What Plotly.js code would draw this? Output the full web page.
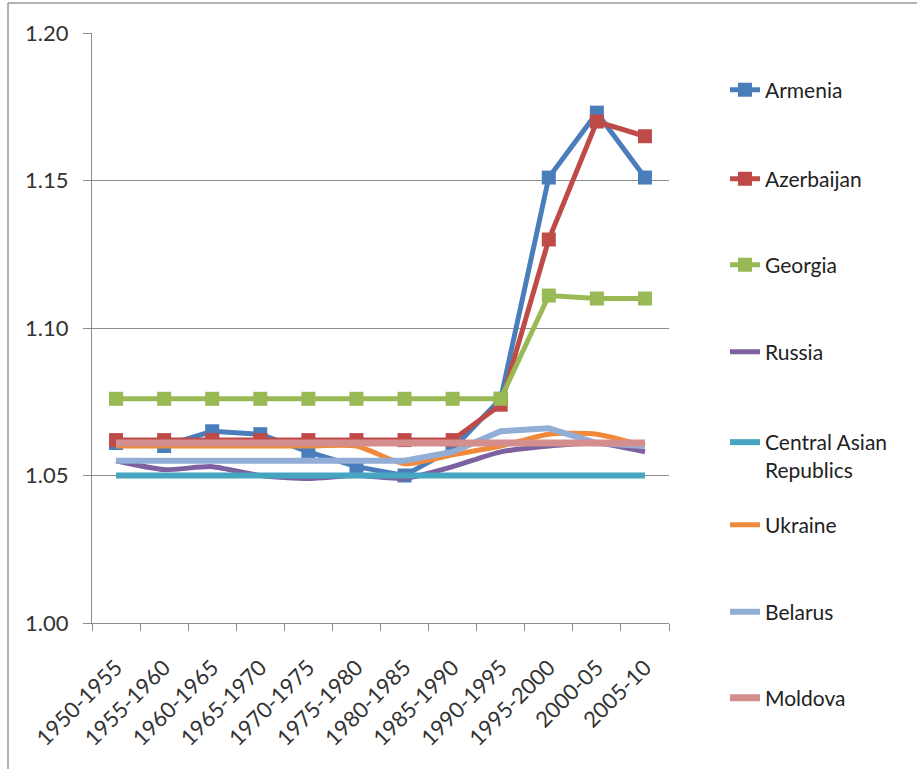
<!DOCTYPE html>
<html>
<head>
<meta charset="utf-8">
<script src="https://cdn.plot.ly/plotly-3.0.1.min.js"></script>
<style>html,body{margin:0;padding:0;background:#fff;}#chart{width:917px;height:769px;}</style>
</head>
<body>
<div id="chart"></div>
<script>
var categories = ['1950-1955','1955-1960','1960-1965','1965-1970','1970-1975','1975-1980','1980-1985','1985-1990','1990-1995','1995-2000','2000-05','2005-10'];
var armenia    = [1.061, 1.060, 1.065, 1.064, 1.058, 1.053, 1.050, 1.059, 1.076, 1.151, 1.173, 1.151];
var azerbaijan = [1.062, 1.062, 1.062, 1.062, 1.062, 1.062, 1.062, 1.062, 1.074, 1.130, 1.170, 1.165];
var georgia    = [1.076, 1.076, 1.076, 1.076, 1.076, 1.076, 1.076, 1.076, 1.076, 1.111, 1.110, 1.110];
var russia     = [1.055, 1.052, 1.053, 1.050, 1.049, 1.050, 1.049, 1.053, 1.058, 1.060, 1.061, 1.058];
var centralAsia= [1.050, 1.050, 1.050, 1.050, 1.050, 1.050, 1.050, 1.050, 1.050, 1.050, 1.050, 1.050];
var ukraine    = [1.060, 1.060, 1.060, 1.060, 1.060, 1.060, 1.054, 1.057, 1.060, 1.064, 1.064, 1.060];
var belarus    = [1.055, 1.055, 1.055, 1.055, 1.055, 1.055, 1.055, 1.058, 1.065, 1.066, 1.061, 1.060];
var moldova    = [1.061, 1.061, 1.061, 1.061, 1.061, 1.061, 1.061, 1.061, 1.061, 1.061, 1.061, 1.061];

var names = ['Armenia','Azerbaijan','Georgia','Russia','Central Asian<br>Republics','Ukraine','Belarus','Moldova'];
var series = [armenia, azerbaijan, georgia, russia, centralAsia, ukraine, belarus, moldova];
var colors = ['#4A7EBB','#BE4B48','#98B954','#7D60A0','#46A5C0','#F08A3A','#93AED6','#D48E8E'];
var widths = [5, 5, 5, 5, 6, 5, 6, 7];
var shapesLine = ['linear','linear','linear','spline','linear','spline','linear','linear'];
var withMarkers = [true, true, true, false, false, false, false, false];
var legendY = [90, 179, 265, 352, 456, 525, 612, 698];

var font = 'Lato, "Open Sans", "Liberation Sans", sans-serif';
var traces = [];
var layout = {
  width: 917, height: 769,
  margin: {l: 92, r: 248, t: 33, b: 146},
  paper_bgcolor: '#ffffff', plot_bgcolor: '#ffffff',
  font: {family: font, size: 22, color: '#333333'},
  xaxis: {
    type: 'category', range: [-0.5, categories.length - 0.5], tickangle: -45, ticks: 'outside', tickson: 'boundaries',
    ticklen: 7, tickcolor: '#8c8c8c', showline: true, linecolor: '#8c8c8c', linewidth: 1,
    showgrid: false, zeroline: false, tickfont: {family: font, size: 22, color: '#333333'},
    ticklabelstandoff: 22, fixedrange: true
  },
  yaxis: {
    range: [1.0, 1.2], dtick: 0.05, tick0: 1.0, tickformat: '.2f',
    ticks: 'outside', ticklen: 8, tickcolor: '#8c8c8c', showline: true, linecolor: '#8c8c8c', linewidth: 1,
    showgrid: true, gridcolor: '#8c8c8c', gridwidth: 1, zeroline: false,
    tickfont: {family: font, size: 22, color: '#333333'}, ticklabelstandoff: 10, fixedrange: true
  },
  shapes: [
    {type: 'line', xref: 'paper', yref: 'paper', x0: (8-92)/577, x1: (917-92)/577, y0: (623-3)/590, y1: (623-3)/590, line: {color: '#999999', width: 1.5}},
    {type: 'line', xref: 'paper', yref: 'paper', x0: (8-92)/577, x1: (8-92)/577, y0: (623-3)/590, y1: (623-769)/590, line: {color: '#999999', width: 1.5}}
  ],
  showlegend: true
};

for (var i = 0; i < series.length; i++) {
  var key = i === 0 ? 'legend' : 'legend' + (i + 1);
  var t = {
    type: 'scatter', x: categories, y: series[i], name: names[i],
    mode: withMarkers[i] ? 'lines+markers' : 'lines',
    line: {color: colors[i], width: widths[i], shape: shapesLine[i], smoothing: 0.6},
    legend: key, hoverinfo: 'skip'
  };
  if (withMarkers[i]) t.marker = {symbol: 'square', size: 14, color: colors[i]};
  traces.push(t);
  layout[key] = {
    x: (725 - 92) / 577, xanchor: 'left',
    y: (623 - legendY[i]) / 590, yanchor: 'middle',
    bgcolor: 'rgba(0,0,0,0)', borderwidth: 0,
    valign: i === 4 ? 'top' : 'middle',
    font: {family: font, size: 21, color: '#222222'}
  };
}

Plotly.newPlot('chart', traces, layout, {displayModeBar: false, staticPlot: true});
</script>
</body>
</html>
